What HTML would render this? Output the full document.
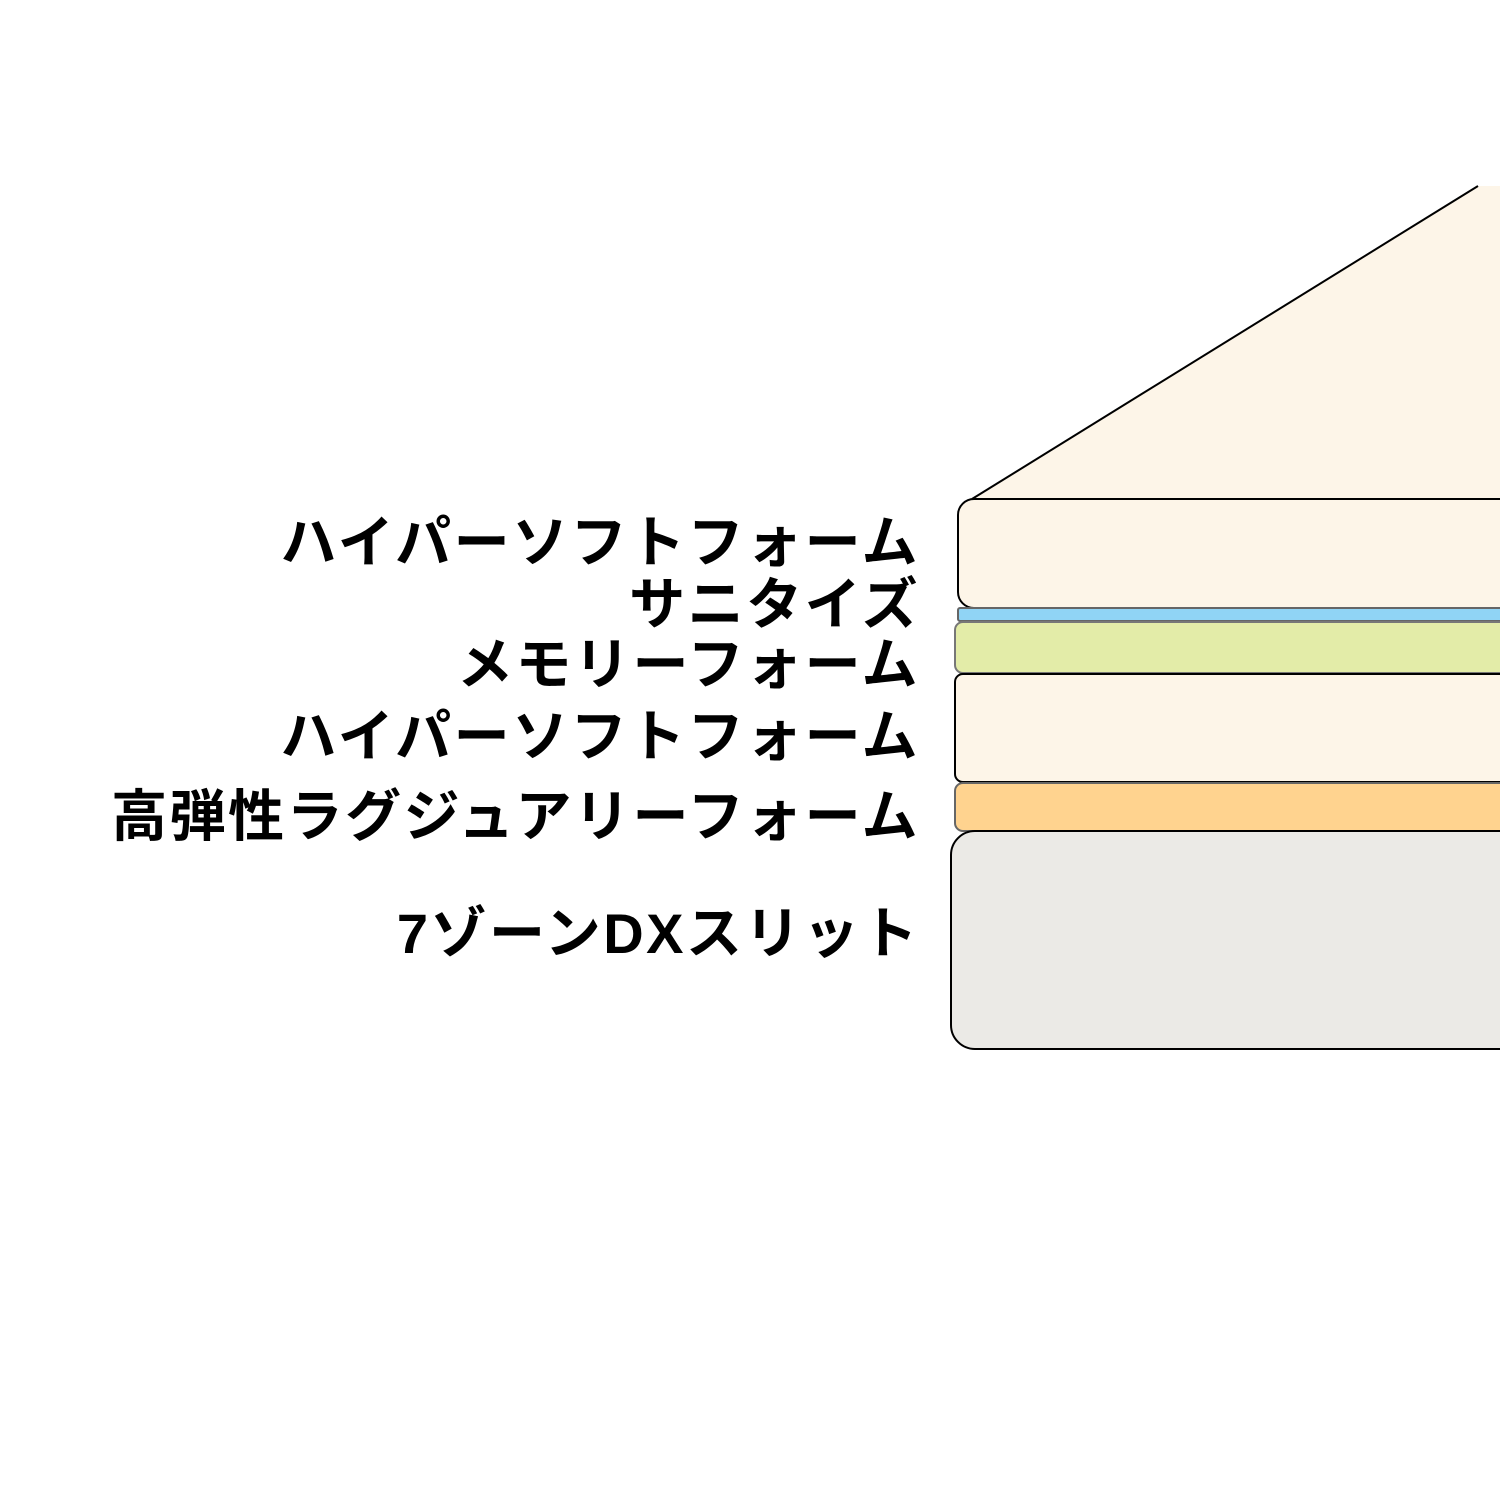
<!DOCTYPE html>
<html><head><meta charset="utf-8"><style>
html,body{margin:0;padding:0;background:#fff;width:1500px;height:1500px;overflow:hidden}
.t{position:absolute;right:580px;font-family:"Liberation Sans","Noto Sans CJK JP",sans-serif;font-weight:bold;font-size:56px;letter-spacing:2.5px;line-height:1;color:#000;white-space:nowrap}
</style></head><body>
<svg width="1500" height="1500" style="position:absolute;left:0;top:0">
<polygon points="972,499 1478,186 1500,186 1500,499" fill="#fdf5e8"/>
<line x1="972" y1="499" x2="1478" y2="186" stroke="#000" stroke-width="2"/>
<rect x="958" y="499" width="600" height="109" rx="16" fill="#fdf5e8" stroke="#000" stroke-width="2"/>
<rect x="958" y="608" width="600" height="13" rx="2" fill="#90d4f5" stroke="#666" stroke-width="2"/>
<rect x="955" y="622" width="600" height="51" rx="8" fill="#e3eca8" stroke="#777" stroke-width="2"/>
<rect x="955" y="674" width="600" height="108" rx="8" fill="#fdf5e8" stroke="#000" stroke-width="2"/>
<rect x="955" y="783" width="600" height="48" rx="8" fill="#ffd38f" stroke="#666" stroke-width="2"/>
<rect x="951" y="831" width="600" height="218" rx="24" fill="#ebeae6" stroke="#000" stroke-width="2"/>
</svg>
<div class="t" style="top:515px">ハイパーソフトフォーム</div>
<div class="t" style="top:577px">サニタイズ</div>
<div class="t" style="top:637px">メモリーフォーム</div>
<div class="t" style="top:709px">ハイパーソフトフォーム</div>
<div class="t" style="top:789px">高弾性ラグジュアリーフォーム</div>
<div class="t" style="top:906px">7ゾーンDXスリット</div>
</body></html>
